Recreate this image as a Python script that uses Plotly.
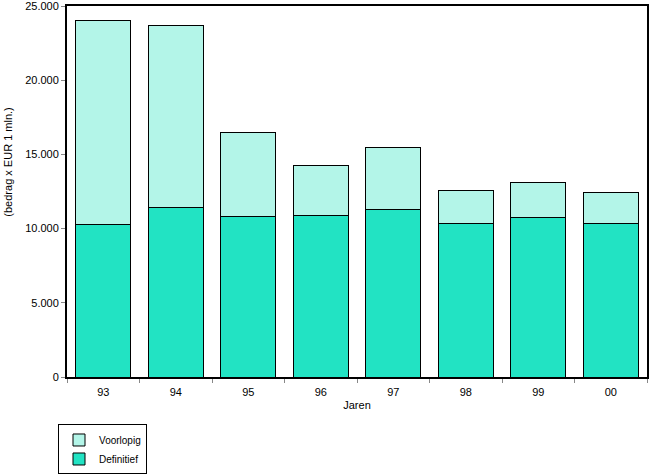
import plotly.graph_objects as go

jaren = ["93", "94", "95", "96", "97", "98", "99", "00"]
definitief = [10300, 11400, 10800, 10900, 11300, 10350, 10750, 10350]
totaal = [24000, 23700, 16500, 14250, 15450, 12550, 13100, 12400]
voorlopig = [t - d for t, d in zip(totaal, definitief)]

y_ticks = [0, 5000, 10000, 15000, 20000, 25000]
y_ticktext = ["0", "5.000", "10.000", "15.000", "20.000", "25.000"]

fig = go.Figure()
fig.add_trace(go.Bar(x=jaren, y=definitief, name="Definitief",
                     marker=dict(color="#22E3C3", line=dict(color="black", width=1))))
fig.add_trace(go.Bar(x=jaren, y=voorlopig, name="Voorlopig",
                     marker=dict(color="#B3F5E8", line=dict(color="black", width=1))))

fig.update_layout(
    barmode="stack",
    bargap=0.24,
    width=649, height=474,
    margin=dict(l=67, r=2, t=6, b=97, autoexpand=False),
    plot_bgcolor="white", paper_bgcolor="white",
    font=dict(family="Liberation Sans, Arial, sans-serif", size=11, color="black"),
    showlegend=True,
    legend=dict(x=-0.0155, y=-0.128, xanchor="left", yanchor="top",
                traceorder="reversed", bordercolor="black", borderwidth=1,
                font=dict(size=10), tracegroupgap=0, itemwidth=30),
    xaxis=dict(showline=True, linecolor="black", linewidth=2, mirror=True,
               ticks="outside", tickson="boundaries", ticklen=4, tickcolor="#888",
               ticklabelstandoff=4,
               title=dict(text="Jaren", standoff=4, font=dict(size=11)),
               tickfont=dict(size=11), automargin=False),
    yaxis=dict(range=[0, 25000], tickvals=y_ticks, ticktext=y_ticktext,
               showline=True, linecolor="black", linewidth=2, mirror=True,
               ticks="outside", ticklen=4, tickcolor="#888", showgrid=False,
               zeroline=False, tickfont=dict(size=11), automargin=False,
               ticklabeloverflow="allow"),
    annotations=[dict(text="(bedrag x EUR 1 mln.)", xref="paper", yref="paper",
                      x=-0.102, y=0.58, textangle=-90, showarrow=False,
                      xanchor="center", yanchor="middle", font=dict(size=11))],
)

fig.write_html("out.html")
